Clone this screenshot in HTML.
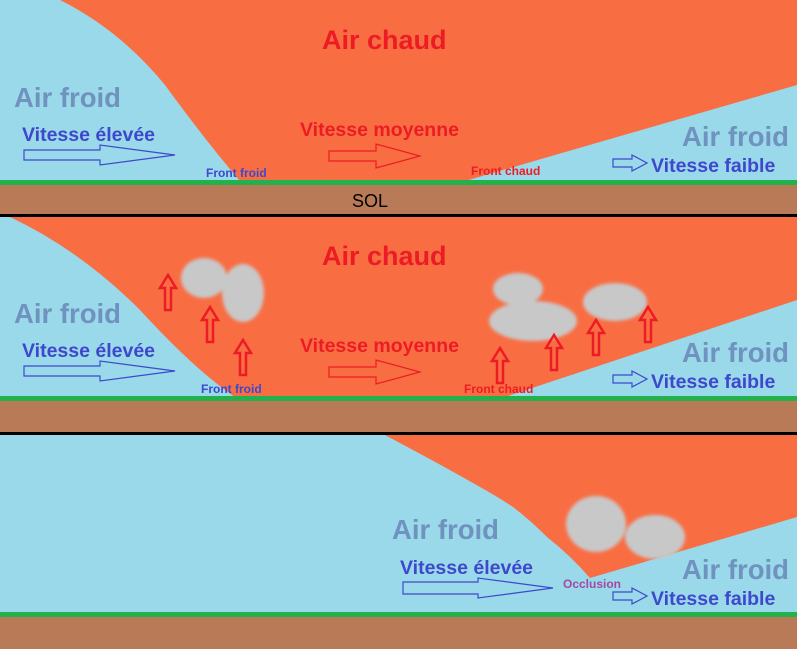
<!DOCTYPE html>
<html><head><meta charset="utf-8"><style>
html,body{margin:0;padding:0;background:#fff}
svg{display:block}
text{font-family:"Liberation Sans",sans-serif;font-weight:bold}
</style></head><body>
<svg width="797" height="649" viewBox="0 0 797 649" xmlns="http://www.w3.org/2000/svg">
<defs>
<filter id="b" x="-30%" y="-30%" width="160%" height="160%"><feGaussianBlur stdDeviation="1.5"/></filter>
</defs>
<!-- Panel 1 -->
<rect x="0" y="0" width="797" height="181" fill="#f96d43"/>
<path d="M0,0 L60,0 Q120,30 165,85 Q205,140 240,181 L0,181 Z" fill="#99d9ea"/>
<path d="M465,181 L797,85 L797,181 Z" fill="#99d9ea"/>
<rect x="0" y="180" width="797" height="5" fill="#22b14c"/>
<rect x="0" y="185" width="797" height="29" fill="#b97a57"/>
<rect x="0" y="214" width="797" height="3" fill="#000"/>
<!-- Panel 2 -->
<rect x="0" y="217" width="797" height="180" fill="#f96d43"/>
<path d="M0,217 L10,217 Q80,250 140,310 Q195,370 235,397 L0,397 Z" fill="#99d9ea"/>
<path d="M505,397 L797,300 L797,397 Z" fill="#99d9ea"/>
<rect x="0" y="396" width="797" height="5" fill="#22b14c"/>
<rect x="0" y="401" width="797" height="31" fill="#b97a57"/>
<rect x="0" y="432" width="797" height="3" fill="#000"/>
<!-- Panel 3 -->
<rect x="0" y="435" width="797" height="178" fill="#99d9ea"/>
<path d="M385,435 L797,435 L797,517 L590,578 Q570,555 547,537 Q530,520 513,507 Q498,497 480,487 Q445,467 413,450 Z" fill="#f96d43"/>
<rect x="0" y="612" width="797" height="5" fill="#22b14c"/>
<rect x="0" y="617" width="797" height="32" fill="#b97a57"/>

<!-- clouds -->
<g fill="#c8c8c8" filter="url(#b)">
<ellipse cx="204" cy="278" rx="23" ry="20"/>
<ellipse cx="243" cy="293" rx="21" ry="29"/>
<ellipse cx="518" cy="289" rx="25" ry="16"/>
<ellipse cx="533" cy="321" rx="44" ry="20"/>
<ellipse cx="615" cy="302" rx="32" ry="19"/>
<ellipse cx="596" cy="524" rx="30" ry="28"/>
<ellipse cx="655" cy="537" rx="30" ry="22"/>
</g>

<!-- up arrows -->
<g fill="none" stroke="#ed1c24" stroke-width="2.5">
<path d="M165,310 v-22 h-5 l8,-13 l8,13 h-5 v22 Z"/>
<path d="M207,342 v-22 h-5 l8,-13 l8,13 h-5 v22 Z"/>
<path d="M240,375 v-22 h-5 l8,-13 l8,13 h-5 v22 Z"/>
<path d="M497,383 v-22 h-5 l8,-13 l8,13 h-5 v22 Z"/>
<path d="M551,370 v-22 h-5 l8,-13 l8,13 h-5 v22 Z"/>
<path d="M593,355 v-22 h-5 l8,-13 l8,13 h-5 v22 Z"/>
<path d="M645,342 v-22 h-5 l8,-13 l8,13 h-5 v22 Z"/>
</g>

<!-- horizontal arrows -->
<g fill="none" stroke="#3f48cc" stroke-width="1.2">
<path d="M24,150 H100 V145 L175,155 L100,165 V160 H24 Z"/>
<path d="M24,366 H100 V361 L175,371 L100,381 V376 H24 Z"/>
<path d="M403,582 H478 V578 L553,588 L478,598 V594 H403 Z"/>
<path d="M613,159 H632 V155 L647,163 L632,171 V167 H613 Z"/>
<path d="M613,375 H632 V371 L647,379 L632,387 V383 H613 Z"/>
<path d="M613,592 H632 V588 L647,596 L632,604 V600 H613 Z"/>
</g>
<g fill="none" stroke="#ed1c24" stroke-width="1.2">
<path d="M329,151 H376 V144 L420,156 L376,168 V161 H329 Z"/>
<path d="M329,367 H376 V360 L420,372 L376,384 V377 H329 Z"/>
</g>

<!-- texts -->
<g font-size="27" fill="#ed1c24">
<text x="322" y="49">Air chaud</text>
<text x="322" y="265">Air chaud</text>
</g>
<g font-size="27.5" fill="#7092be">
<text x="14" y="107">Air froid</text>
<text x="14" y="323">Air froid</text>
<text x="392" y="539">Air froid</text>
<text x="682" y="146">Air froid</text>
<text x="682" y="362">Air froid</text>
<text x="682" y="579">Air froid</text>
</g>
<g font-size="19.5" fill="#3f48cc">
<text x="22" y="141">Vitesse élevée</text>
<text x="22" y="357">Vitesse élevée</text>
<text x="400" y="574">Vitesse élevée</text>
<text x="651" y="172">Vitesse faible</text>
<text x="651" y="388">Vitesse faible</text>
<text x="651" y="605">Vitesse faible</text>
</g>
<g font-size="19.5" fill="#ed1c24">
<text x="300" y="136">Vitesse moyenne</text>
<text x="300" y="352">Vitesse moyenne</text>
</g>
<g font-size="12" fill="#3f48cc">
<text x="206" y="177">Front froid</text>
<text x="201" y="393">Front froid</text>
</g>
<g font-size="12" fill="#ed1c24">
<text x="471" y="175">Front chaud</text>
<text x="464" y="393">Front chaud</text>
</g>
<text x="563" y="588" font-size="12" fill="#a349a4">Occlusion</text>
<text x="352" y="207" font-size="18" fill="#000" style="font-weight:normal">SOL</text>
</svg>
</body></html>
